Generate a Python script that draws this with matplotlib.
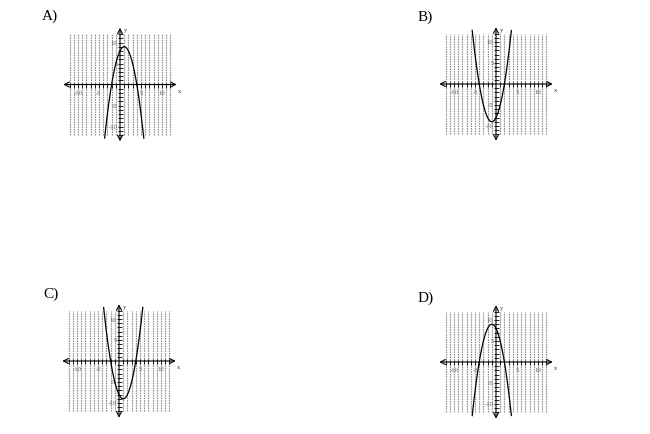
import matplotlib
matplotlib.use("Agg")
import matplotlib.pyplot as plt
import numpy as np

# ---- data ----
panel_labels = ['A)', 'B)', 'C)', 'D)']
coef_a = [-1, 1, 1, -1]
coef_b = [2, 2, -2, -2]
coef_c = [8, -8, -8, 8]
tick_values = [-10, -5, 5, 10]
tick_labels = ['-10', '-5', '5', '10']
grid_positions = list(range(-12, 13))

# ---- layout (pixels) ----
W, H = 650, 435
centers = [(120, 85.5), (496, 85), (119, 362), (496, 363)]
label_pos = [(42, 16), (418, 17.5), (43, 294), (418, 298)]
ppu = 4.2            # pixels per unit
lim = 14.5
size = 2 * lim * ppu

fig = plt.figure(figsize=(W / 100, H / 100), dpi=100)

for i in range(4):
    cx, cy = centers[i]
    ax = fig.add_axes([(cx - size / 2) / W, (H - cy - size / 2) / H, size / W, size / H])
    ax.set_xlim(-lim, lim)
    ax.set_ylim(-lim, lim)
    ax.axis('off')

    # dashed vertical grid
    for g in grid_positions:
        if g == 0:
            continue
        ax.plot([g, g], [-12, 12], color='#8c8c8c', lw=0.85, ls=(0, (1.3, 0.8)), zorder=1)

    # axes with arrows
    ax.annotate('', xy=(13.5, 0), xytext=(-13.5, 0),
                arrowprops=dict(arrowstyle='<->,head_length=0.35,head_width=0.18',
                                color='black', lw=0.8, shrinkA=0, shrinkB=0), zorder=3)
    ax.annotate('', xy=(0, 13.5), xytext=(0, -13.5),
                arrowprops=dict(arrowstyle='<->,head_length=0.35,head_width=0.18',
                                color='black', lw=0.8, shrinkA=0, shrinkB=0), zorder=3)

    # tick marks
    tk = [t for t in grid_positions if t != 0]
    ax.plot(tk, [0] * len(tk), ls='none', marker='|', ms=3.6, mew=0.6, color='black', zorder=3)
    ax.plot([0] * len(tk), tk, ls='none', marker='_', ms=3.6, mew=0.6, color='black', zorder=3)

    # tick labels
    for v, s in zip(tick_values, tick_labels):
        ax.text(v, -1.8, s, fontsize=4.8, color='#5a5a70', ha='center', va='center',
                family='Liberation Serif', zorder=4)
        ax.text(-0.6, v, s, fontsize=4.8, color='#5a5a70', ha='right', va='center',
                family='Liberation Serif', zorder=4)
    ax.text(13.9, -1.4, 'x', fontsize=4.8, color='#333333', ha='left', va='center',
            family='Liberation Serif')
    ax.text(0.9, 13.0, 'y', fontsize=4.8, color='#333333', ha='left', va='center',
            family='Liberation Serif')

    # curve
    xs = np.linspace(-14, 14, 2000)
    ys = coef_a[i] * xs ** 2 + coef_b[i] * xs + coef_c[i]
    m = np.abs(ys) <= 12.8
    ax.plot(xs[m], ys[m], color='black', lw=0.9, zorder=5)

    lx, ly = label_pos[i]
    fig.text(lx / W, 1 - ly / H, panel_labels[i], fontsize=11, family='Liberation Serif',
             ha='left', va='center')

fig.savefig('out.png', dpi=100)
